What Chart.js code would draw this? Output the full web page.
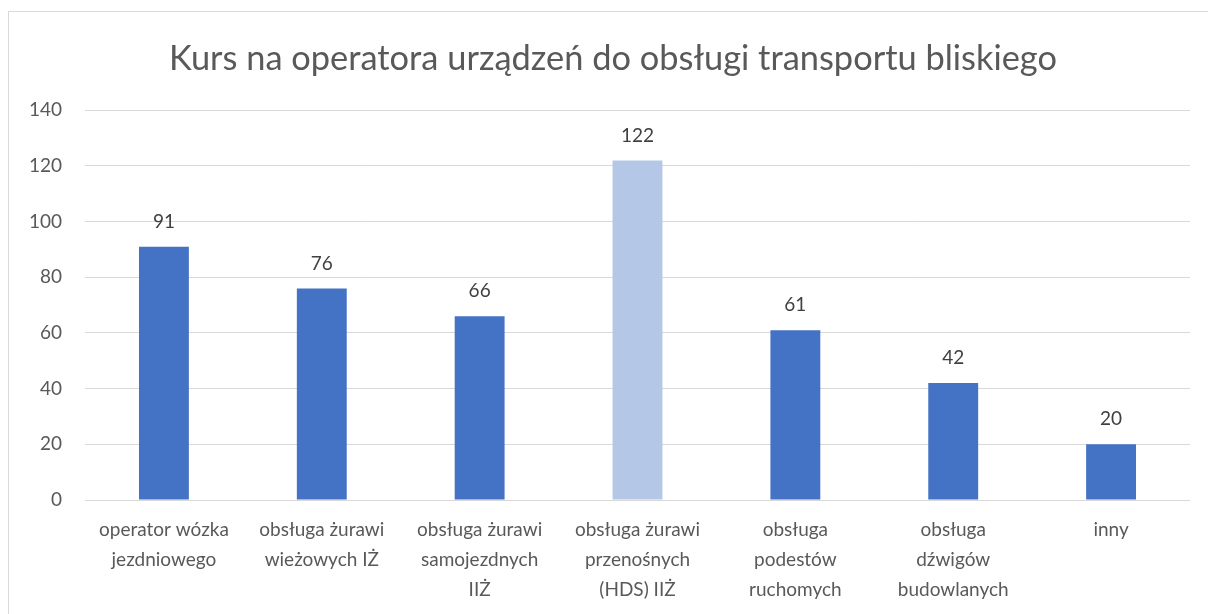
<!DOCTYPE html>
<html>
<head>
<meta charset="utf-8">
<script src="https://cdn.jsdelivr.net/npm/chart.js@4/dist/chart.umd.min.js"></script>
<style>
    html, body { margin: 0; padding: 0; overflow: hidden; background: #ffffff; }
    #frame { position: absolute; left: 8px; top: 11px; width: 1400px; height: 800px; border: 1px solid #d9d9d9; }
    #wrap { position: absolute; left: 0; top: 0; width: 1208px; height: 614px; }
</style>
</head>
<body>
<div id="frame"></div>
<div id="wrap"><canvas id="chart"></canvas></div>
<script>
// --- DATA ---
const categories = [
    ['operator wózka', 'jezdniowego'],
    ['obsługa żurawi', 'wieżowych IŻ'],
    ['obsługa żurawi', 'samojezdnych', 'IIŻ'],
    ['obsługa żurawi', 'przenośnych', '(HDS) IIŻ'],
    ['obsługa', 'podestów', 'ruchomych'],
    ['obsługa', 'dźwigów', 'budowlanych'],
    ['inny']
];
const values = [91, 76, 66, 122, 61, 42, 20];
const highlighted = [false, false, false, true, false, false, false];
const yTicks = [0, 20, 40, 60, 80, 100, 120, 140];
const chartTitle = 'Kurs na operatora urządzeń do obsługi transportu bliskiego';

// --- CONFIG ---
const BAR_COLOR = '#4472c4';
const HIGHLIGHT_COLOR = '#b4c7e7';
const TEXT_COLOR = '#595959';
const FONT = 'Lato, "Open Sans", sans-serif';

// draws the value above each bar, using the bar elements from the dataset meta
const valueLabels = {
    id: 'valueLabels',
    afterDatasetsDraw(chart) {
        const ctx = chart.ctx;
        const meta = chart.getDatasetMeta(0);
        ctx.save();
        ctx.font = '19px ' + FONT;
        ctx.fillStyle = '#404040';
        ctx.textAlign = 'center';
        ctx.textBaseline = 'middle';
        meta.data.forEach((bar, i) => {
            ctx.fillText(String(values[i]), bar.x, bar.y - 25);
        });
        ctx.restore();
    }
};

new Chart(document.getElementById('chart'), {
    type: 'bar',
    data: {
        labels: categories,
        datasets: [{
            data: values,
            backgroundColor: highlighted.map(h => h ? HIGHLIGHT_COLOR : BAR_COLOR),
            borderWidth: 0,
            barPercentage: 0.316,
            categoryPercentage: 1
        }]
    },
    options: {
        responsive: true,
        maintainAspectRatio: false,
        animation: false,
        // title is centred on the whole frame, so padding is uneven and the axes take up the rest
        layout: { padding: { left: 24, right: 6, top: 0, bottom: 10 } },
        plugins: {
            legend: { display: false },
            tooltip: { enabled: false },
            title: {
                display: true,
                text: chartTitle,
                color: TEXT_COLOR,
                font: { family: FONT, size: 34.4, weight: 'normal' },
                padding: { top: 38, bottom: 31 }
            }
        },
        scales: {
            x: {
                grid: { display: false },
                border: { display: false },
                afterFit: axis => { axis.height = 104; },
                ticks: {
                    color: TEXT_COLOR,
                    font: { family: FONT, size: 19, lineHeight: '30px' },
                    padding: 7,
                    maxRotation: 0,
                    autoSkip: false
                }
            },
            y: {
                min: 0,
                max: 140,
                afterBuildTicks: axis => { axis.ticks = yTicks.map(v => ({ value: v })); },
                afterFit: axis => { axis.width = 61; },
                grid: { color: '#d9d9d9', lineWidth: 1, drawTicks: false },
                border: { display: false },
                ticks: {
                    color: TEXT_COLOR,
                    font: { family: FONT, size: 19 },
                    padding: 23
                }
            },
            // empty spacer on the right
            yRight: {
                position: 'right',
                grid: { display: false },
                border: { display: false },
                ticks: { display: false },
                afterFit: axis => { axis.width = 12; }
            }
        }
    },
    plugins: [valueLabels]
});
</script>
</body>
</html>
